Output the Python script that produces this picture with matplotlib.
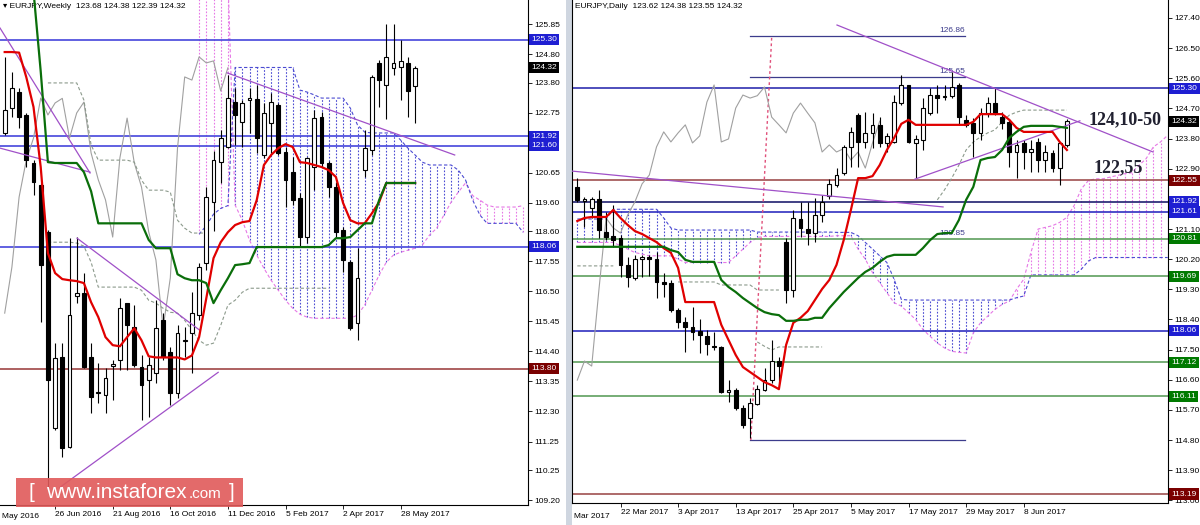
import numpy as np
import matplotlib.pyplot as plt
from matplotlib.patches import Rectangle

plt.rcParams['font.family'] = ['Liberation Sans', 'DejaVu Sans']

# ---------------- weekly EURJPY ----------------
w_open = [122.04, 122.91, 123.47, 122.67, 120.99, 120.22, 118.58, 111.72, 114.21, 111.06,
          116.34, 116.44, 114.21, 112.95, 112.88, 113.90, 114.10, 116.09, 115.26, 113.86,
          113.40, 113.65, 115.50, 114.38, 112.95, 114.75, 115.05, 115.67, 117.49, 119.63,
          121.02, 121.55, 123.12, 122.42, 123.20, 123.23, 121.27, 122.39, 123.02, 121.37,
          120.68, 119.77, 118.40, 120.85, 122.60, 120.99, 120.15, 118.65, 117.53, 115.40,
          120.75, 121.44, 124.49, 123.72, 124.31, 124.35, 124.49, 123.68]
w_high = [124.70, 124.17, 123.61, 122.74, 121.09, 120.29, 118.65, 114.70, 114.70, 118.37,
          118.40, 117.14, 114.70, 114.00, 113.82, 114.10, 116.27, 116.10, 116.02, 114.28,
          114.21, 116.20, 115.74, 114.56, 115.33, 115.26, 116.48, 117.49, 120.15, 121.40,
          122.14, 124.07, 123.61, 123.19, 123.61, 123.72, 123.09, 123.44, 123.09, 121.55,
          121.20, 119.94, 121.20, 122.84, 122.77, 121.05, 120.33, 118.75, 117.60, 118.02,
          122.14, 124.07, 124.59, 125.85, 125.85, 125.29, 124.70, 124.38]
w_low = [121.97, 122.60, 122.21, 120.85, 119.87, 115.43, 109.56, 111.65, 110.71, 111.02,
         116.09, 113.82, 112.25, 112.60, 112.25, 112.70, 113.75, 113.75, 113.87, 112.00,
         112.11, 113.30, 114.10, 112.53, 112.77, 114.21, 113.65, 115.50, 117.25, 118.60,
         120.30, 121.50, 121.62, 121.55, 122.04, 121.34, 121.17, 121.34, 121.27, 119.45,
         119.52, 118.05, 118.20, 120.05, 120.85, 119.80, 118.40, 117.18, 115.15, 114.80,
         120.50, 121.27, 122.95, 122.53, 124.07, 123.19, 122.60, 122.39]
w_close = [122.84, 123.61, 122.60, 121.09, 120.33, 117.42, 113.40, 114.17, 111.03, 115.67,
           116.44, 113.86, 112.81, 112.98, 113.47, 113.96, 115.92, 115.33, 113.93, 113.23,
           113.93, 115.22, 114.21, 112.95, 115.05, 114.80, 115.74, 117.35, 119.80, 121.09,
           121.86, 123.26, 122.67, 123.09, 123.25, 121.86, 122.74, 123.12, 121.34, 120.40,
           119.70, 118.40, 121.17, 122.56, 120.99, 120.15, 118.58, 117.60, 115.22, 116.97,
           121.51, 124.00, 123.89, 124.70, 124.49, 124.56, 123.51, 124.32]
w_tenkan = [124.87, 124.87, 124.85, 123.99, 122.95, 120.85, 117.84, 117.14, 116.93, 116.89,
            116.86, 116.79, 116.12, 115.60, 114.90, 114.62, 114.58, 114.90, 115.21, 114.79,
            114.23, 114.19, 114.19, 114.19, 114.19, 114.12, 114.26, 114.90, 116.26, 117.66,
            118.22, 118.57, 118.82, 118.92, 118.96, 119.69, 120.92, 121.27, 121.51, 121.65,
            121.55, 121.02, 120.99, 120.92, 120.85, 120.74, 120.50, 119.59, 118.99, 118.88,
            118.88, 119.23, 119.62, 120.29, 120.29, 120.29, 120.29, 120.29]
w_kijun = [127.8, 127.8, 127.8, 127.8, 127.0, 124.2, 121.02, 120.99, 120.99, 120.99,
           120.99, 120.67, 120.00, 118.88, 118.88, 118.88, 118.88, 118.88, 118.88, 118.88,
           118.30, 118.01, 118.01, 118.01, 117.10, 116.96, 116.89, 116.89, 116.79, 116.09,
           116.54, 116.96, 117.42, 117.45, 117.49, 118.05, 118.05, 118.05, 118.05, 118.05,
           118.05, 118.05, 118.05, 118.05, 118.05, 118.12, 118.36, 118.36, 118.40, 118.64,
           118.88, 118.88, 119.69, 120.29, 120.29, 120.29, 120.29, 120.29]
w_dash1 = [None] * 6 + [123.79] * 5 + [123.19, 121.62] + [121.09] * 5 + [121.02, 120.39] \
    + [120.04] * 3 + [119.97, 118.99, 118.71] + [118.54] * 3 + [None] * 29
w_dash2 = [None] * 6 + [118.22] * 4 + [118.19, 118.08, 117.52] + [116.65] * 6 \
    + [116.54, 116.19, 116.09, 115.91, 115.77, 115.74, 115.49, 115.14, 114.79, 114.62,
       114.69, 115.31, 116.02, 116.19, 116.47, 116.61] + [116.61] * 11 + [None] * 12
# cloud (already shifted forward), starting at bar 27
w_cloud_start = 27
w_span_a = [127.5] * 5 + [119.52, 118.99, 118.29, 117.77, 117.31, 116.89, 116.54, 116.19,
                          115.91, 115.70, 115.60] + [115.56] * 6 \
    + [115.67, 116.02, 116.54, 117.07, 117.52, 117.77, 117.87, 117.94, 118.01, 118.12,
       118.47, 118.71, 119.17, 119.62, 119.97, 120.29, 119.85, 119.69, 119.52] \
    + [119.45] * 4 + [119.50]
w_span_b = [118.5, 118.8, 119.2, 119.4, 119.5] + [124.33] * 9 \
    + [123.54, 123.47, 123.37] + [123.26] * 4 + [122.91, 122.32, 122.07] + [122.04] * 4 \
    + [121.79, 121.51, 121.27, 121.02] + [120.92] * 4 + [120.74, 120.40, 119.69, 119.17] \
    + [118.88] * 5 + [118.57]
w_levels = [125.30, 121.92, 121.60, 118.06, 113.80]
w_level_colors = ['#4646dc', '#4646dc', '#4646dc', '#4646dc', '#a04646']
w_box_values = [125.30, 124.32, 121.92, 121.60, 118.06, 113.80]
w_box_colors = ['#1e1ed2', 'black', '#1e1ed2', '#1e1ed2', '#1e1ed2', '#7a0000']
w_trend_x = [[-0.65, 11.85], [-0.65, 11.85], [10.05, 27.1], [7.68, 29.65], [30.9, 62.5]]
w_trend_y = [[125.71, 120.64], [121.51, 120.67], [118.36, 115.14], [109.65, 113.67],
             [124.14, 121.27]]
w_ticks = [125.85, 124.80, 123.80, 122.75, 120.65, 119.60, 118.60, 117.55, 116.50,
           115.45, 114.40, 113.35, 112.30, 111.25, 110.25, 109.20]
w_date_pos = [7, 15, 23, 31, 39, 47, 55]
w_date_lab = ['26 Jun 2016', '21 Aug 2016', '16 Oct 2016', '11 Dec 2016', '5 Feb 2017',
              '2 Apr 2017', '28 May 2017']

# ---------------- daily EURJPY ----------------
d_open = [122.36, 121.95, 121.73, 122.00, 121.01, 120.89, 120.83, 120.03, 119.64, 120.22,
          120.26, 120.21, 119.50, 119.49, 118.68, 118.33, 118.18, 118.06, 117.91, 117.60,
          117.58, 116.25, 116.30, 115.76, 115.46, 115.88, 116.30, 116.59, 117.16, 120.71,
          119.28, 121.40, 121.10, 120.98, 121.52, 122.10, 122.41, 122.77, 123.55, 124.50,
          123.70, 123.97, 124.21, 123.67, 123.70, 124.86, 125.40, 123.67, 123.76, 124.56,
          125.10, 125.05, 125.07, 125.40, 124.36, 124.27, 123.97, 124.56, 124.86, 124.44,
          124.30, 123.40, 123.67, 123.40, 123.70, 123.16, 123.37, 122.92, 123.62]
d_high = [122.62, 122.06, 122.06, 122.27, 121.61, 121.82, 120.92, 120.27, 120.33, 120.33,
          120.33, 120.42, 119.79, 119.58, 118.74, 118.47, 118.77, 118.41, 118.09, 118.03,
          117.60, 116.59, 116.36, 115.85, 116.06, 116.45, 116.95, 117.79, 117.28, 120.83,
          121.67, 121.91, 121.91, 122.03, 122.12, 122.58, 122.92, 123.61, 124.15, 124.56,
          124.59, 124.56, 124.44, 123.97, 125.10, 125.70, 125.40, 123.91, 125.01, 125.31,
          125.40, 125.40, 125.79, 125.46, 124.50, 124.41, 124.71, 125.04, 125.31, 124.60,
          124.36, 123.76, 123.76, 123.76, 123.82, 123.61, 123.46, 123.70, 124.38]
d_low = [121.91, 121.16, 121.43, 120.83, 120.77, 120.56, 119.67, 119.37, 119.58, 119.67,
         119.70, 119.04, 119.07, 118.62, 118.15, 117.43, 117.79, 117.40, 117.34, 117.49,
         116.21, 115.94, 115.70, 115.16, 114.85, 115.85, 116.27, 116.50, 116.50, 118.89,
         119.07, 120.86, 120.62, 120.71, 121.31, 122.00, 122.36, 122.71, 122.95, 122.95,
         123.52, 123.52, 123.55, 123.40, 123.67, 124.80, 123.67, 122.62, 123.46, 124.50,
         124.56, 124.95, 125.00, 124.21, 124.15, 123.25, 123.76, 124.44, 124.50, 124.10,
         122.95, 122.62, 122.90, 122.80, 122.80, 122.80, 122.80, 122.41, 123.55]
d_close = [121.97, 121.97, 122.00, 121.07, 120.86, 120.77, 120.03, 119.67, 120.21, 120.26,
           120.22, 119.52, 119.47, 118.68, 118.33, 118.18, 118.03, 117.94, 117.67, 117.57,
           116.24, 116.29, 115.76, 115.25, 115.91, 116.33, 116.59, 117.16, 117.01, 119.28,
           121.43, 121.13, 120.98, 121.52, 121.91, 122.45, 122.71, 123.55, 124.00, 123.70,
           123.97, 124.21, 123.67, 123.88, 124.89, 125.40, 123.70, 123.79, 124.71, 125.10,
           125.01, 125.08, 125.34, 124.44, 124.21, 123.97, 124.56, 124.86, 124.56, 124.27,
           123.40, 123.61, 123.40, 123.50, 123.16, 123.40, 122.92, 123.67, 124.32]
d_tenkan = [121.34, 121.43, 121.46, 121.46, 121.46, 121.67, 121.43, 121.22, 121.04, 120.95,
            120.83, 120.71, 120.53, 120.39, 119.94, 118.92, 118.92, 118.92, 118.92, 118.92,
            118.24, 117.79, 117.34, 116.98, 116.83, 116.68, 116.53, 116.44, 116.32, 117.64,
            118.30, 118.45, 118.65, 118.98, 119.31, 119.58, 120.03, 120.77, 121.67, 122.62,
            122.62, 122.68, 123.01, 123.46, 123.82, 124.24, 124.36, 124.21, 124.21, 124.21,
            124.21, 124.21, 124.21, 124.21, 124.21, 124.30, 124.53, 124.53, 124.53, 124.53,
            124.36, 124.12, 124.00, 124.00, 124.00, 124.00, 124.00, 123.70, 123.46]
d_kijun = [120.57] * 13 + [120.47, 120.41, 120.18] + [120.12] * 4 \
    + [119.58, 119.37, 119.22, 119.04, 118.89, 118.74, 118.62, 118.56, 118.53, 118.36,
       118.36, 118.39, 118.39, 118.45, 118.45, 118.74, 118.98, 119.22, 119.43, 119.64,
       119.82, 119.94, 120.12, 120.27] + [120.33] * 4 \
    + [120.53, 120.77, 120.95, 120.98, 120.98, 121.37, 121.97, 122.36, 123.16, 123.22,
       123.25, 123.46, 123.82, 124.00, 124.15] + [124.18] * 4 + [124.15, 124.12]
d_dash1 = [120.00] * 6 + [None] * 8 + [119.52] * 6 + [119.43] * 5 + [119.28] * 4 + [None] * 40
d_dash2 = [None] * 25 + [117.73, 117.60, 117.49] + [117.58] * 7 + [None] * 15 \
    + [121.97, 122.27, 122.62, 123.01, 123.46, 123.70, 123.85, 123.97, 124.06, 124.30,
       124.50, 124.59] + [124.65] * 7
d_cloud_start = 0
d_span_a = [120.70] * 6 + [120.60, 120.50, 120.40, 120.35] + [120.30] * 4 + [120.20] \
    + [120.10] * 7 + [120.30, 120.50, 120.70, 120.85] + [120.88] * 10 \
    + [120.90, 120.90, 120.90, 120.50, 120.20, 119.80, 119.50, 119.20, 118.90, 118.80,
       118.60, 118.40, 118.10, 117.90, 117.70, 117.55, 117.45, 117.42, 117.40, 118.00,
       118.30, 118.50, 118.70, 118.85, 118.95, 119.30, 119.60, 120.40, 121.10, 121.15,
       121.20, 121.30, 121.45, 121.80, 122.30, 122.55, 122.60, 122.60, 122.65, 122.70,
       122.75, 122.78, 123.00, 123.20, 123.55, 123.70, 123.90]
d_span_b = [121.40] * 5 + [121.69] * 7 + [121.43, 121.13] + [121.07] * 11 + [121.01] * 11 \
    + [121.00, 121.00, 121.00, 120.90, 120.70, 120.50, 120.30, 120.10, 119.60, 119.00] \
    + [118.98] * 15 + [119.05, 119.10, 119.73] + [119.73] * 6 + [119.90, 120.15] + [120.25] * 11
d_levels = [125.30, 122.55, 121.92, 121.61, 120.81, 119.69, 118.06, 117.12, 116.11, 113.19]
d_level_colors = ['#3030b0', '#a05050', '#202070', '#3030c0', '#5f9f5f', '#5f9f5f',
                  '#3030c0', '#5f9f5f', '#5f9f5f', '#a05050']
d_box_values = [125.30, 124.32, 122.55, 121.92, 121.61, 120.81, 119.69, 118.06, 117.12,
                116.11, 113.19]
d_box_colors = ['#1e1ed2', 'black', '#7a0000', '#1e1ed2', '#1e1ed2', '#007a00', '#007a00',
                '#1e1ed2', '#007a00', '#007a00', '#7a0000']
d_segments = [126.86, 125.65, 114.80]
d_segment_x = [24.0, 53.9]
d_trend_x = [[36.07, 79.96], [46.9, 69.8], [-0.74, 50.8]]
d_trend_y = [[127.19, 123.40], [122.59, 124.33], [122.83, 121.76]]
d_proj_x = [24.1, 27.0]
d_proj_y = [114.80, 126.83]
d_ticks = [127.40, 126.50, 125.60, 124.70, 123.80, 122.90, 121.10, 120.20, 119.30, 118.40,
           117.50, 116.60, 115.70, 114.80, 113.90, 113.00]
d_date_pos = [6, 14, 22, 30, 38, 46, 54, 62]
d_date_lab = ['22 Mar 2017', '3 Apr 2017', '13 Apr 2017', '25 Apr 2017', '5 May 2017',
              '17 May 2017', '29 May 2017', '8 Jun 2017']

BLUE = '#4b4bd2'
PINK = '#e678e6'
VIOLET = '#a050c8'


def draw_candles(ax, o, h, l, c):
    o, h, l, c = (np.asarray(v, float) for v in (o, h, l, c))
    x = np.arange(len(o))
    ax.vlines(x, l, h, color='black', lw=0.8, zorder=3)
    up = c >= o
    lo = np.minimum(o, c)
    ht = np.maximum(np.abs(c - o), 0.035)
    ax.bar(x[up], ht[up], 0.55, lo[up], color='white', edgecolor='black', lw=0.8, zorder=4)
    ax.bar(x[~up], ht[~up], 0.55, lo[~up], color='black', edgecolor='black', lw=0.8, zorder=4)


def draw_cloud(ax, start, span_a, span_b):
    a = np.array(span_a, float)
    b = np.array(span_b, float)
    x = np.arange(start, start + len(a))
    up = b >= a
    ax.vlines(x[up], a[up], b[up], colors=BLUE, linestyles=(0, (1.5, 1.5)), lw=0.8, zorder=1)
    ax.vlines(x[~up], b[~up], a[~up], colors=PINK, linestyles=(0, (1.5, 1.5)), lw=0.8, zorder=1)
    ax.plot(x, a, color=PINK, ls=(0, (3, 2)), lw=0.8, zorder=1)
    ax.plot(x, b, color=BLUE, ls=(0, (3, 2)), lw=0.8, zorder=1)


def draw_ichimoku(ax, close, tenkan, kijun, dash1, dash2):
    n = len(close)
    ax.plot(np.arange(n - 26), close[26:], color='#a0a0a0', lw=0.8, zorder=2)
    ax.plot(np.arange(n), np.array(dash1, float), color='#8c9a8c', ls=(0, (3, 2)), lw=0.8, zorder=2)
    ax.plot(np.arange(n), np.array(dash2, float), color='#8c9a8c', ls=(0, (3, 2)), lw=0.8, zorder=2)
    ax.plot(np.arange(n), tenkan, color='#e00000', lw=1.6, zorder=5)
    ax.plot(np.arange(n), kijun, color='#0a6e0a', lw=1.6, zorder=5)


def price_boxes(ax, values, colors):
    for v, fc in zip(values, colors):
        ax.text(1.006, v, f'{v:.2f}', transform=ax.get_yaxis_transform(), ha='left',
                va='center', fontsize=6, color='white', zorder=10,
                bbox=dict(boxstyle='square,pad=0.25', fc=fc, ec='none'))


def style_axis(ax, ticks, pos, labels):
    ax.yaxis.tick_right()
    ax.set_yticks(ticks)
    ax.set_yticklabels([f'{t:.2f}' for t in ticks])
    ax.set_xticks(pos)
    ax.set_xticklabels(labels)
    for lbl in ax.get_xticklabels():
        lbl.set_ha('left')
    ax.tick_params(labelsize=6, length=3, width=0.6, pad=1.5, colors='black')
    ax.spines['top'].set_visible(False)
    for s in ('right', 'bottom', 'left'):
        ax.spines[s].set_linewidth(0.8)


fig = plt.figure(figsize=(12, 5.25), dpi=100)
fig.patch.set_facecolor('white')
fig.add_artist(Rectangle((566 / 1200, 0), 6 / 1200, 1, transform=fig.transFigure,
                         fc='#cfd6e0', ec='none', zorder=0))

# ---- weekly panel ----
axw = fig.add_axes([0, 20 / 525, 528 / 1200, 505 / 525])
axw.set_xlim(-0.653, 72.68)
axw.set_ylim(109.03, 126.69)
draw_cloud(axw, w_cloud_start, w_span_a, w_span_b)
for v, col in zip(w_levels, w_level_colors):
    axw.axhline(v, color=col, lw=1.2, zorder=2)
for tx, ty in zip(w_trend_x, w_trend_y):
    axw.plot(tx, ty, color=VIOLET, lw=0.9, zorder=5)
draw_ichimoku(axw, np.array(w_close), w_tenkan, w_kijun, w_dash1, w_dash2)
draw_candles(axw, w_open, w_high, w_low, w_close)
style_axis(axw, w_ticks, w_date_pos, w_date_lab)
axw.spines['left'].set_visible(False)
price_boxes(axw, w_box_values, w_box_colors)
axw.text(0.006, 0.995, '\u25BE EURJPY,Weekly  123.68 124.38 122.39 124.32',
         transform=axw.transAxes, ha='left', va='top', fontsize=6)
axw.text(0.004, -0.016, 'May 2016', transform=axw.transAxes, ha='left', va='top', fontsize=6)

# ---- daily panel ----
axd = fig.add_axes([572 / 1200, 22 / 525, 596 / 1200, 503 / 525])
axd.set_xlim(-0.736, 82.04)
axd.set_ylim(112.922, 127.937)
draw_cloud(axd, d_cloud_start, d_span_a, d_span_b)
for v, col in zip(d_levels, d_level_colors):
    axd.axhline(v, color=col, lw=1.2, zorder=2)
for v in d_segments:
    axd.plot(d_segment_x, [v, v], color='#3c3c8c', lw=0.9, zorder=2)
    if v != 114.80:
        axd.text(d_segment_x[1], v + 0.05, f'{v:.2f}', ha='right', va='bottom',
                 fontsize=6, color='#3c3c8c')
axd.text(d_segment_x[1], 120.87, '120.85', ha='right', va='bottom', fontsize=6, color='#3c3c8c')
for tx, ty in zip(d_trend_x, d_trend_y):
    axd.plot(tx, ty, color=VIOLET, lw=0.9, zorder=5)
axd.plot(d_proj_x, d_proj_y, color='#e0507a', ls=(0, (2, 2)), lw=1, zorder=2)
draw_ichimoku(axd, np.array(d_close), d_tenkan, d_kijun, d_dash1, d_dash2)
draw_candles(axd, d_open, d_high, d_low, d_close)
style_axis(axd, d_ticks, d_date_pos, d_date_lab)
price_boxes(axd, d_box_values, d_box_colors)
axd.text(0.005, 0.995, 'EURJPY,Daily  123.62 124.38 123.55 124.32',
         transform=axd.transAxes, ha='left', va='top', fontsize=6)
axd.text(0.003, -0.02, 'Mar 2017', transform=axd.transAxes, ha='left', va='top', fontsize=6)
axd.text(76.1, 124.36, '124,10-50', ha='center', va='center', fontsize=13,
         fontweight='bold', family='Liberation Serif', color='#202030')
axd.text(75.1, 122.92, '122,55', ha='center', va='center', fontsize=13,
         fontweight='bold', family='Liberation Serif', color='#202030')

# ---- watermark ----
fig.add_artist(Rectangle((16 / 1200, 18 / 525), 227 / 1200, 29 / 525, transform=fig.transFigure,
                         fc='#e05a5a', ec='none', alpha=0.9, zorder=20))
fig.text(28 / 1200, 32 / 525, '[', fontsize=15, color='white', va='center', zorder=21)
fig.text(46 / 1200, 32 / 525, 'www.instaforex', fontsize=15, color='white', va='center', zorder=21)
fig.text(189 / 1200, 31 / 525, '.com', fontsize=11, color='white', va='center', zorder=21)
fig.text(229 / 1200, 32 / 525, ']', fontsize=15, color='white', va='center', zorder=21)

fig.savefig('out.png', dpi=100)
